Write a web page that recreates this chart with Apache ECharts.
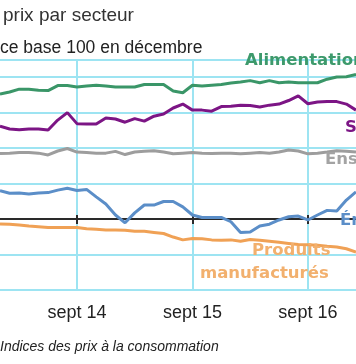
<!DOCTYPE html>
<html><head><meta charset="utf-8">
<script src="https://cdn.jsdelivr.net/npm/echarts@6/dist/echarts.min.js"></script>
<style>html,body{margin:0;padding:0;background:#fff}#c{width:356px;height:364px}</style>
</head><body><div id="c"></div>
<script>
const monthNames = ['janv','févr','mars','avr','mai','juin','juil','août','sept','oct','nov','déc'];
const firstYear = 14;
const nMonths = 38; // janv 14 .. févr 17
const categories = [];
for (let k = 0; k < nMonths; k++) categories.push(monthNames[k % 12] + ' ' + (firstYear + Math.floor(k / 12)));

const alimentation = [103.51,103.57,103.65,103.65,103.62,103.61,103.75,103.75,103.71,103.74,103.76,103.74,103.71,103.71,103.71,103.78,103.78,103.78,103.60,103.55,103.76,103.74,103.76,103.78,103.82,103.85,103.89,103.83,103.89,103.83,103.85,103.83,103.83,103.83,103.93,103.99,104.00,104.06];
const services = [102.61,102.53,102.51,102.53,102.53,102.50,102.78,102.99,102.68,102.67,102.67,102.84,102.81,102.72,102.82,102.75,102.89,102.95,103.12,103.23,103.06,103.06,103.03,103.16,103.17,103.20,103.19,103.15,103.20,103.23,103.33,103.46,103.24,103.29,103.30,103.30,103.23,103.06];
const ensemble = [101.84,101.85,101.87,101.87,101.85,101.80,101.91,101.98,101.88,101.87,101.85,101.85,101.90,101.81,101.88,101.90,101.92,101.88,101.83,101.85,101.87,101.85,101.84,101.85,101.85,101.83,101.85,101.87,101.85,101.88,101.94,101.91,101.83,101.85,101.88,101.92,101.90,101.88];
const energie = [100.79,100.72,100.73,100.70,100.73,100.74,100.81,100.86,100.80,100.83,100.62,100.42,100.11,99.89,100.17,100.39,100.39,100.49,100.49,100.34,100.11,100.04,100.04,100.04,99.92,99.62,99.63,99.80,99.85,99.97,100.06,100.08,99.97,100.11,100.24,100.22,100.53,100.76];
const produits = [99.86,99.85,99.83,99.80,99.78,99.76,99.76,99.76,99.76,99.72,99.71,99.69,99.69,99.68,99.65,99.65,99.62,99.59,99.49,99.41,99.45,99.44,99.41,99.40,99.41,99.37,99.42,99.40,99.37,99.34,99.31,99.28,99.27,99.26,99.23,99.21,99.16,99.07];

const yMin = 98, yMax = 104.47, yStep = 1;
const isSept = (i, v) => String(v).indexOf('sept') === 0;

const gridColor = '#9de4f2';
const chart = echarts.init(document.getElementById('c'), null, {renderer: 'canvas'});
const gridRect = {left: -3.7, top: 60, width: 363.8, height: 230};
const mk = (name, data, color) => ({
  name, type: 'line', data, xAxisIndex: 0, yAxisIndex: 0,
  symbol: 'none', smooth: false, silent: true,
  lineStyle: {color, width: 3}, itemStyle: {color}
});
const lab = 'bold 16.5px "DejaVu Sans"';
chart.setOption({
  animation: false,
  grid: [Object.assign({}, gridRect), Object.assign({}, gridRect)],
  xAxis: [
    {type: 'category', gridIndex: 0, data: categories, boundaryGap: false, position: 'bottom',
     axisLine: {show: false}, axisTick: {show: false},
     axisLabel: {interval: isSept, margin: 14, color: '#222', fontSize: 18, fontFamily: 'Liberation Sans'},
     splitLine: {show: true, interval: isSept, lineStyle: {color: gridColor, width: 2}}},
    {type: 'category', gridIndex: 0, data: categories, boundaryGap: false, position: 'top', offset: -159,
     axisLine: {show: true, lineStyle: {color: '#2a2a2a', width: 2}},
     axisTick: {show: true, interval: isSept, length: 4, inside: false, lineStyle: {color: '#2a2a2a', width: 2}},
     axisLabel: {show: false}, splitLine: {show: false}},
    {type: 'category', gridIndex: 1, data: categories, boundaryGap: false, position: 'top', offset: -159,
     axisLine: {show: false},
     axisTick: {show: true, interval: isSept, length: 5, inside: true, lineStyle: {color: '#2a2a2a', width: 2}},
     axisLabel: {show: false}, splitLine: {show: false}}
  ],
  yAxis: [
    {type: 'value', gridIndex: 0, min: yMin, max: yMax, interval: yStep,
     axisLine: {show: false}, axisTick: {show: false}, axisLabel: {show: false},
     splitLine: {show: true, lineStyle: {color: gridColor, width: 2}}},
    {type: 'value', gridIndex: 1, min: yMin, max: yMax, interval: yStep, show: false, splitLine: {show: false}}
  ],
  series: [
    mk('Produits manufacturés', produits, '#f0a155'),
    mk('Énergie', energie, '#5b8ec8'),
    mk('Ensemble', ensemble, '#9d9d9d'),
    mk('Services', services, '#7c1585'),
    mk('Alimentation', alimentation, '#3a9668')
  ],
  graphic: [
    {type: 'text', x: 3, y: 16, style: {text: 'prix par secteur', font: '19px "Liberation Sans"', fill: '#333', textVerticalAlign: 'middle', verticalAlign: 'middle'}},
    {type: 'text', x: 0, y: 48, style: {text: 'ce base 100 en décembre', font: '17.5px "Liberation Sans"', fill: '#222', textVerticalAlign: 'middle', verticalAlign: 'middle'}},
    {type: 'text', x: 245, y: 61, z: 10, style: {text: 'Alimentation', font: lab, fill: '#3d9a6c', textVerticalAlign: 'middle', verticalAlign: 'middle'}},
    {type: 'text', x: 345, y: 128, z: 10, style: {text: 'Services', font: lab, fill: '#7c1585', textVerticalAlign: 'middle', verticalAlign: 'middle'}},
    {type: 'text', x: 325, y: 160, z: 10, style: {text: 'Ensemble', font: lab, fill: '#a3a3a3', textVerticalAlign: 'middle', verticalAlign: 'middle'}},
    {type: 'text', x: 340, y: 221, z: 10, style: {text: 'Énergie', font: lab, fill: '#5b8ec8', textVerticalAlign: 'middle', verticalAlign: 'middle'}},
    {type: 'text', x: 252, y: 251, z: 10, style: {text: 'Produits', font: lab, fill: '#f2b06e', textVerticalAlign: 'middle', verticalAlign: 'middle'}},
    {type: 'text', x: 200, y: 274, z: 10, style: {text: 'manufacturés', font: lab, fill: '#f2b06e', textVerticalAlign: 'middle', verticalAlign: 'middle'}},
    {type: 'text', x: 0, y: 347, style: {text: 'Indices des prix à la consommation', font: 'italic 14px "Liberation Sans"', fill: '#222', textVerticalAlign: 'middle', verticalAlign: 'middle'}}
  ]
});
</script></body></html>
